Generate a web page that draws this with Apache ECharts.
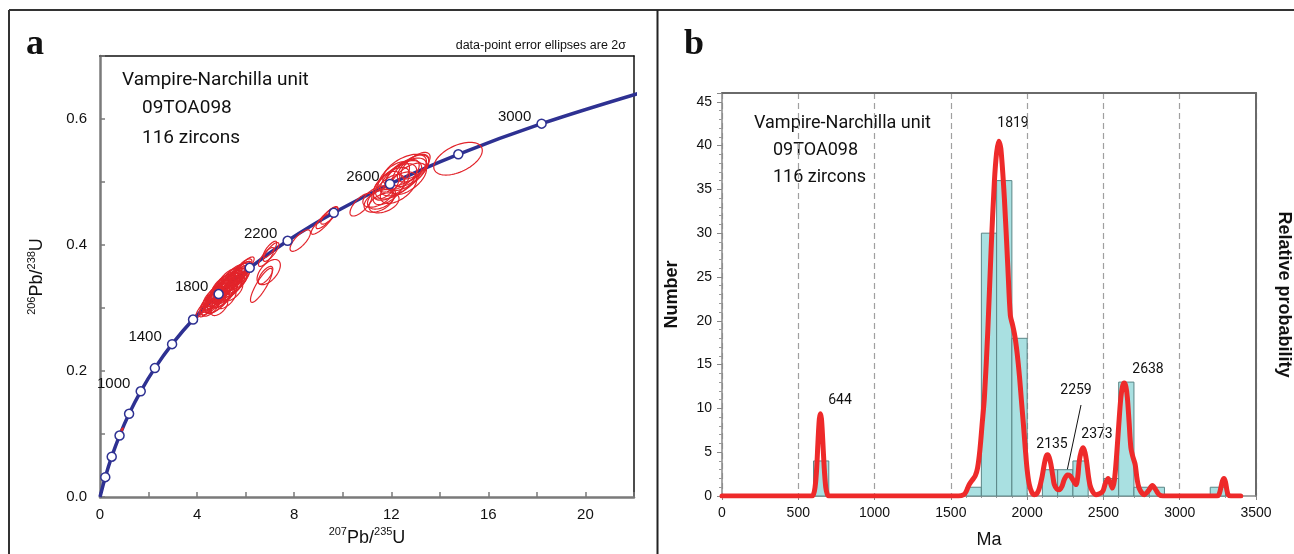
<!DOCTYPE html>
<html><head><meta charset="utf-8">
<script src="https://cdn.jsdelivr.net/npm/echarts@6/dist/echarts.min.js"></script>
<style>html,body{margin:0;padding:0;background:#fff}#c{width:1294px;height:554px}</style>
</head><body><div id="c"></div>
<script>
// ---------- Panel a: concordia ----------
const concAges = [0, 200, 400, 600, 800, 1000, 1200, 1400, 1600, 1800, 2000, 2200, 2400, 2600, 2800, 3000, 3200];
const concX = [0, 0.2177, 0.4828, 0.8057, 1.1987, 1.6774, 2.2603, 2.970, 3.834, 4.887, 6.168, 7.729, 9.630, 11.944, 14.762, 18.193, 22.37];
const concY = [0, 0.03151, 0.06402, 0.09754, 0.1321, 0.1678, 0.2046, 0.2426, 0.2817, 0.3221, 0.3638, 0.4067, 0.4511, 0.4968, 0.5440, 0.5926, 0.6428];
const labelledAges = [1000, 1400, 1800, 2200, 2600, 3000];

// error ellipses: [x (207/235), y (206/238), 2s x, 2s y, rho]
const ellipses = [
  [0.875, 0.1046, 0.05, 0.0040, 0.9], [0.895, 0.1056, 0.06, 0.0042, 0.9], [0.885, 0.1050, 0.05, 0.0036, 0.9],
  [4.15, 0.296, 0.20, 0.011, 0.8], [4.35, 0.298, 0.28, 0.012, 0.7], [4.45, 0.302, 0.32, 0.013, 0.7],
  [4.50, 0.308, 0.38, 0.015, 0.7], [4.55, 0.300, 0.35, 0.013, 0.65], [4.60, 0.312, 0.42, 0.016, 0.7],
  [4.65, 0.318, 0.40, 0.016, 0.7], [4.68, 0.309, 0.42, 0.016, 0.7], [4.72, 0.314, 0.45, 0.017, 0.7],
  [4.75, 0.306, 0.42, 0.015, 0.65], [4.78, 0.318, 0.46, 0.016, 0.7], [4.80, 0.324, 0.42, 0.016, 0.7],
  [4.82, 0.316, 0.44, 0.017, 0.7], [4.88, 0.321, 0.48, 0.018, 0.7], [4.88, 0.310, 0.46, 0.017, 0.7],
  [4.92, 0.324, 0.44, 0.016, 0.72], [4.95, 0.331, 0.42, 0.016, 0.7], [4.92, 0.301, 0.34, 0.013, 0.6],
  [4.98, 0.326, 0.50, 0.018, 0.7], [5.02, 0.328, 0.46, 0.017, 0.7], [5.02, 0.317, 0.46, 0.017, 0.7],
  [5.05, 0.337, 0.44, 0.016, 0.7], [5.08, 0.330, 0.48, 0.018, 0.68], [5.10, 0.338, 0.42, 0.016, 0.7],
  [5.12, 0.331, 0.44, 0.016, 0.72], [5.14, 0.322, 0.48, 0.016, 0.7], [5.18, 0.334, 0.48, 0.017, 0.7],
  [5.22, 0.335, 0.46, 0.017, 0.7], [5.24, 0.326, 0.44, 0.017, 0.7], [5.25, 0.342, 0.44, 0.016, 0.7],
  [5.22, 0.314, 0.38, 0.015, 0.65], [5.28, 0.337, 0.50, 0.018, 0.7], [5.30, 0.347, 0.44, 0.016, 0.7],
  [5.33, 0.339, 0.44, 0.017, 0.7], [5.35, 0.330, 0.48, 0.018, 0.7], [5.38, 0.341, 0.48, 0.018, 0.7],
  [5.40, 0.348, 0.42, 0.016, 0.7], [5.43, 0.334, 0.46, 0.017, 0.7], [5.45, 0.343, 0.46, 0.017, 0.7],
  [5.48, 0.326, 0.40, 0.015, 0.65], [5.52, 0.345, 0.48, 0.018, 0.7], [5.55, 0.338, 0.48, 0.017, 0.7],
  [5.55, 0.353, 0.42, 0.016, 0.7], [5.60, 0.348, 0.44, 0.017, 0.72], [5.63, 0.340, 0.44, 0.016, 0.7],
  [5.68, 0.354, 0.42, 0.017, 0.7], [5.72, 0.346, 0.44, 0.017, 0.7], [5.76, 0.351, 0.44, 0.017, 0.7],
  [5.80, 0.357, 0.42, 0.016, 0.7], [5.88, 0.359, 0.38, 0.015, 0.7], [5.92, 0.364, 0.34, 0.014, 0.7],
  [6.05, 0.369, 0.30, 0.012, 0.75], [5.00, 0.320, 0.55, 0.020, 0.6], [5.40, 0.336, 0.55, 0.020, 0.6],
  [6.85, 0.381, 0.32, 0.015, 0.8], [7.05, 0.389, 0.32, 0.015, 0.8], [7.00, 0.393, 0.28, 0.013, 0.8],
  [6.95, 0.357, 0.48, 0.020, 0.55], [6.65, 0.336, 0.45, 0.027, 0.85], [6.82, 0.352, 0.30, 0.014, 0.7],
  [8.25, 0.407, 0.42, 0.017, 0.75],
  [9.15, 0.434, 0.45, 0.017, 0.85], [9.35, 0.443, 0.45, 0.017, 0.85], [9.45, 0.447, 0.35, 0.014, 0.8],
  [10.75, 0.464, 0.45, 0.018, 0.7],
  [11.50, 0.470, 0.62, 0.018, 0.45], [11.60, 0.474, 0.58, 0.017, 0.45], [11.45, 0.477, 0.62, 0.017, 0.5],
  [11.70, 0.467, 0.62, 0.016, 0.4], [11.80, 0.495, 0.55, 0.022, 0.6], [11.90, 0.488, 0.65, 0.024, 0.6],
  [12.00, 0.497, 0.75, 0.026, 0.6], [12.10, 0.508, 0.65, 0.024, 0.6], [12.20, 0.501, 0.85, 0.028, 0.6],
  [12.30, 0.491, 0.75, 0.025, 0.55], [12.40, 0.506, 0.85, 0.028, 0.6], [12.55, 0.519, 0.90, 0.025, 0.55],
  [12.60, 0.512, 0.85, 0.026, 0.6], [12.70, 0.505, 0.75, 0.025, 0.6], [12.80, 0.518, 0.75, 0.025, 0.6],
  [12.90, 0.522, 0.65, 0.022, 0.6], [13.00, 0.526, 0.60, 0.021, 0.65], [12.45, 0.512, 0.70, 0.024, 0.6],
  [14.75, 0.537, 1.00, 0.026, 0.5]
];

// ---------- Panel b: histogram + probability curve ----------
const binStart = [600, 1600, 1700, 1800, 1900, 2100, 2200, 2300, 2500, 2600, 2700, 2800, 3200];
const binCount = [4, 1, 30, 36, 18, 3, 3, 4, 2, 13, 1, 1, 1];
const BIN_WIDTH = 100;

const probAge = [0, 560, 590, 600, 610, 620, 630, 638, 645, 652, 660, 670, 680, 690, 700,
  1550, 1585, 1600, 1620, 1640, 1660, 1675, 1690, 1705, 1720, 1742, 1764, 1785, 1800, 1814, 1828, 1851, 1873, 1890,
  1905, 1920, 1935, 1950, 1962, 1975, 1988, 2000, 2014, 2030, 2047,
  2065, 2080, 2098, 2112, 2124, 2134, 2145, 2156, 2168, 2178, 2195, 2211, 2228, 2244, 2265, 2282, 2298, 2320,
  2332, 2341, 2355, 2368, 2380, 2390, 2404, 2418, 2451, 2494, 2512, 2531, 2545, 2559, 2572, 2585, 2600, 2614, 2625, 2636,
  2647, 2657, 2668, 2680, 2694, 2708, 2720, 2734, 2767, 2795, 2821, 2843, 2865, 2890,
  3245, 3257, 3268, 3280, 3290, 3300, 3310, 3318, 3335, 3400];
const probValue = [0, 0, 0, 0.2, 1.0, 3.0, 6.5, 8.8, 9.4, 8.8, 6.5, 3.2, 1.0, 0.2, 0,
  0, 0.15, 0.5, 1.3, 1.8, 2.3, 3.2, 5.2, 8.2, 11.3, 18.8, 28.2, 35.8, 39.2, 40.5, 39.6, 33.9, 26.3, 20.6,
  19.5, 18.2, 16.2, 13.6, 11.0, 8.3, 5.4, 3.0, 1.3, 0.45, 0.15,
  0.3, 0.9, 2.2, 3.6, 4.5, 4.7, 4.4, 3.6, 2.3, 1.3, 0.8, 0.7, 1.1, 1.9, 2.4, 2.3, 1.9, 1.3,
  2.2, 3.9, 5.1, 5.5, 4.9, 3.9, 2.0, 0.9, 0.15, 0.5, 1.4, 2.0, 1.5, 0.9, 1.8, 4.3, 8.0, 11.2, 12.5, 12.9,
  12.5, 11.2, 8.5, 5.5, 4.4, 3.6, 2.0, 0.9, 0.15, 0.6, 1.2, 0.7, 0.15, 0,
  0, 0.15, 0.8, 1.7, 2.0, 1.6, 0.6, 0.15, 0, 0];

const peakLabels = ['644', '1819', '2135', '2259', '2373', '2638'];
const infoLines = ['Vampire-Narchilla unit', '09TOA098', '116 zircons'];

// ---------- build ----------
const NAVY = '#2e3192', RED = '#e2242b', PRED = '#ee2a2a';
const SANS = 'Liberation Sans, Arial, sans-serif';
const HUM = 'Roboto, sans-serif';

const concLine = concAges.map((a, i) => [concX[i], concY[i]]);
const concMarks = concAges.map((a, i) => [concX[i], concY[i], a]).filter(d => d[2] > 0 && d[2] <= 3000);
const bins = binStart.map((s, i) => [s, s + BIN_WIDTH, binCount[i]]);
const prob = probAge.map((a, i) => [a, probValue[i]]);

const chart = echarts.init(document.getElementById('c'), null, {renderer: 'canvas'});

const supRich = {
  s: {fontSize: 11, fontFamily: SANS, color: '#111', verticalAlign: 'top', lineHeight: 12},
  m: {fontSize: 18, fontFamily: SANS, color: '#111', lineHeight: 22}
};

function txt(x, y, text, font, size, opts) {
  return {type: 'text', x: x, y: y, silent: true,
    style: Object.assign({text: text, fontFamily: font, fontSize: size, fill: '#111',
      textAlign: 'left', textVerticalAlign: 'middle'}, opts || {})};
}
function seg(x1, y1, x2, y2, w, c) {
  return {type: 'line', silent: true, shape: {x1: x1, y1: y1, x2: x2, y2: y2}, style: {stroke: c || '#333', lineWidth: w}};
}

const option = {
  animation: false,
  backgroundColor: '#fff',
  grid: [
    {left: 100, top: 56, width: 534, height: 441},
    {left: 722, top: 93, width: 535, height: 405}
  ],
  xAxis: [
    {gridIndex: 0, type: 'value', min: 0, max: 22, interval: 2, position: 'bottom',
      axisLine: {lineStyle: {color: '#7a7a7a', width: 2.5}},
      axisTick: {inside: true, length: 5, lineStyle: {color: '#7a7a7a', width: 1.5}},
      axisLabel: {margin: 10, fontSize: 15, fontFamily: SANS, color: '#111',
        formatter: v => (Math.round(v) % 4 === 0 ? String(v) : '')},
      splitLine: {show: false},
      name: '{s|207}{m|Pb/}{s|235}{m|U}', nameLocation: 'middle', nameGap: 27,
      nameTextStyle: {rich: supRich}},
    {gridIndex: 0, type: 'value', min: 0, max: 22, position: 'top',
      axisLine: {onZero: false, lineStyle: {color: '#111', width: 1.5}},
      axisTick: {show: false}, axisLabel: {show: false}, splitLine: {show: false}},
    {gridIndex: 1, type: 'value', min: 0, max: 3500, interval: 500, position: 'bottom',
      axisLine: {lineStyle: {color: '#888', width: 1.5}},
      axisTick: {length: 4, lineStyle: {color: '#888'}},
      minorTick: {show: true, splitNumber: 5, length: 2, lineStyle: {color: '#999'}},
      axisLabel: {margin: 10, fontSize: 14, fontFamily: SANS, color: '#111', formatter: v => String(v)},
      splitLine: {show: true, lineStyle: {color: '#a0a0a0', type: [6, 4], width: 1.2}},
      name: 'Ma', nameLocation: 'middle', nameGap: 35,
      nameTextStyle: {fontSize: 18, fontFamily: SANS, color: '#111'}},
    {gridIndex: 1, type: 'value', min: 0, max: 3500, position: 'top',
      axisLine: {onZero: false, lineStyle: {color: '#6a6a6a', width: 2}},
      axisTick: {show: false}, axisLabel: {show: false}, splitLine: {show: false}}
  ],
  yAxis: [
    {gridIndex: 0, type: 'value', min: 0, max: 0.7, interval: 0.1, position: 'left',
      axisLine: {show: true, lineStyle: {color: '#7a7a7a', width: 2.5}},
      axisTick: {show: true, inside: true, length: 5, lineStyle: {color: '#7a7a7a', width: 1.5}},
      axisLabel: {margin: 13, fontSize: 15, fontFamily: SANS, color: '#111',
        formatter: v => (Math.round(v * 10) % 2 === 0 ? v.toFixed(1) : '')},
      splitLine: {show: false},
      name: '{s|206}{m|Pb/}{s|238}{m|U}', nameLocation: 'middle', nameGap: 52, nameRotate: 90,
      nameTextStyle: {rich: supRich}},
    {gridIndex: 0, type: 'value', min: 0, max: 0.7, position: 'right',
      axisLine: {show: true, onZero: false, lineStyle: {color: '#111', width: 1.5}},
      axisTick: {show: false}, axisLabel: {show: false}, splitLine: {show: false}},
    {gridIndex: 1, type: 'value', min: 0, max: 46, interval: 5, position: 'left',
      axisLine: {show: true, lineStyle: {color: '#888', width: 1.5}},
      axisTick: {show: true, length: 5, lineStyle: {color: '#888'}},
      minorTick: {show: true, splitNumber: 5, length: 3, lineStyle: {color: '#999'}},
      axisLabel: {margin: 10, fontSize: 14, fontFamily: SANS, color: '#111', showMaxLabel: false},
      splitLine: {show: false},
      name: 'Number', nameLocation: 'middle', nameGap: 41, nameRotate: 90,
      nameTextStyle: {fontSize: 18, fontWeight: 'bold', fontFamily: SANS, color: '#111'}},
    {gridIndex: 1, type: 'value', min: 0, max: 46, position: 'right',
      axisLine: {show: true, onZero: false, lineStyle: {color: '#6a6a6a', width: 2}},
      axisTick: {show: false}, axisLabel: {show: false}, splitLine: {show: false},
      name: 'Relative probability', nameLocation: 'middle', nameGap: 19, nameRotate: -90,
      nameTextStyle: {fontSize: 18, fontWeight: 'bold', fontFamily: SANS, color: '#111'}}
  ],
  series: [
    {type: 'line', xAxisIndex: 0, yAxisIndex: 0, data: concLine, smooth: 0.35, symbol: 'none',
      clip: true, z: 2, lineStyle: {color: NAVY, width: 3.5}},
    {type: 'custom', xAxisIndex: 0, yAxisIndex: 0, data: ellipses, z: 3, clip: true,
      encode: {x: 0, y: 1},
      renderItem: function (params, api) {
        const cx = api.value(0), cy = api.value(1), sx = api.value(2), sy = api.value(3), r = api.value(4);
        const k = Math.sqrt(1 - r * r);
        const pts = [];
        for (let i = 0; i < 72; i++) {
          const t = i / 72 * Math.PI * 2, c = Math.cos(t), s = Math.sin(t);
          pts.push(api.coord([cx + sx * c, cy + sy * (r * c + k * s)]));
        }
        return {type: 'polygon', shape: {points: pts}, style: {fill: 'none', stroke: RED, lineWidth: 1.2}};
      }},
    {type: 'scatter', xAxisIndex: 0, yAxisIndex: 0, data: concMarks, z: 4, symbol: 'circle', symbolSize: 9,
      itemStyle: {color: '#fff', borderColor: NAVY, borderWidth: 1.5, opacity: 1},
      label: {show: true, position: 'inside', offset: [-27, -7], fontSize: 15, fontFamily: SANS, color: '#111',
        formatter: p => (labelledAges.indexOf(p.value[2]) >= 0 ? String(p.value[2]) : '')}},
    {type: 'custom', xAxisIndex: 2, yAxisIndex: 2, data: bins, z: 2,
      encode: {x: [0, 1], y: 2},
      renderItem: function (params, api) {
        const p0 = api.coord([api.value(0), api.value(2)]);
        const p1 = api.coord([api.value(1), 0]);
        return {type: 'rect', shape: {x: p0[0], y: p0[1], width: p1[0] - p0[0], height: p1[1] - p0[1]},
          style: {fill: '#a9e0e1', stroke: '#5b8586', lineWidth: 1}};
      }},
    {type: 'line', xAxisIndex: 2, yAxisIndex: 2, data: prob, smooth: 0.3, symbol: 'none', z: 5,
      lineStyle: {color: PRED, width: 5, cap: 'round', join: 'round'}}
  ],
  graphic: [
    seg(9, 10, 1294, 10, 2, '#333'),
    seg(9, 10, 9, 554, 2, '#333'),
    seg(657.5, 10, 657.5, 554, 2, '#222'),
    txt(26, 45, 'a', 'Liberation Serif, serif', 36, {fontWeight: 'bold'}),
    txt(684, 45, 'b', 'Liberation Serif, serif', 36, {fontWeight: 'bold'}),
    txt(626, 46, 'data-point error ellipses are 2\u03c3', SANS, 12.5, {textAlign: 'right'}),
    txt(122, 80, infoLines[0], HUM, 19),
    txt(142, 108, infoLines[1], HUM, 19),
    txt(142, 138, infoLines[2], HUM, 19),
    txt(754, 123, infoLines[0], HUM, 18),
    txt(773, 150, infoLines[1], HUM, 18),
    txt(773, 177, infoLines[2], HUM, 18),
    txt(840, 400, peakLabels[0], HUM, 14, {textAlign: 'center'}),
    txt(1013, 123, peakLabels[1], HUM, 14, {textAlign: 'center'}),
    txt(1052, 444, peakLabels[2], HUM, 14, {textAlign: 'center'}),
    txt(1076, 390, peakLabels[3], HUM, 14, {textAlign: 'center'}),
    txt(1097, 434, peakLabels[4], HUM, 14, {textAlign: 'center'}),
    txt(1148, 369, peakLabels[5], HUM, 14, {textAlign: 'center'}),
    seg(1081, 405, 1067, 471, 1, '#111')
  ]
};
chart.setOption(option);
</script></body></html>
